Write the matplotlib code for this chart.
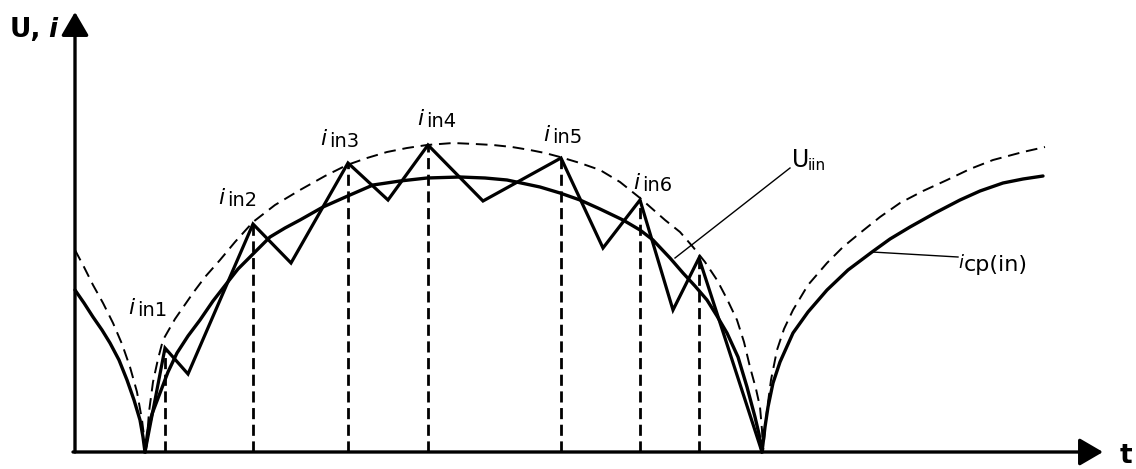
import matplotlib
matplotlib.use("Agg")
import matplotlib.pyplot as plt

plt.rcParams["font.family"] = ["DejaVu Sans"]

# Rectified input voltage envelope U_in (dashed)
envelope_t = [0, 9, 18, 28, 38, 47, 55, 62, 67, 69, 71,
              74, 78, 83, 88, 100, 118, 130, 145, 160, 178, 200, 225, 250, 272,
              292, 312, 332, 352, 378, 400, 418, 437, 455, 470, 485, 505, 525,
              545, 565, 590, 605, 618, 630, 642, 652, 662, 669, 675, 681, 685,
              687, 688,
              690, 692, 696, 702, 709, 718, 733, 752, 768, 785, 805, 825, 848,
              872, 895, 918, 933, 948, 970]
envelope_v = [202, 185, 167, 149, 129, 108, 85, 60, 32, 16, 0,
              40, 70, 93, 112, 133, 159, 175, 192, 210, 230, 247, 262, 276, 287,
              294, 300, 304, 307, 309, 308, 307, 305, 302, 299, 295, 289, 282,
              270, 254, 232, 220, 205, 190, 172, 153, 132, 110, 85, 63, 45,
              22, 0,
              22, 42, 72, 102, 123, 142, 167, 189, 205, 219, 235, 249, 261,
              272, 283, 292, 296, 300, 305]

# Averaged input current i_cp(in) (solid)
current_t = [0, 9, 18, 27, 35, 44, 52, 59, 65, 68, 70,
             73, 77, 85, 93, 102, 113, 125, 138, 152, 163, 175, 195, 210, 225,
             248, 275, 298, 325, 352, 385, 410, 432, 465, 485, 505, 525, 548,
             565, 578, 595, 608, 620, 632, 642, 652, 663, 672, 680, 684, 687,
             690, 693, 698, 705, 718, 733, 752, 773, 797, 815, 835, 860, 885,
             905, 928, 948, 968]
current_v = [162, 149, 135, 122, 109, 92, 72, 52, 32, 15, 0,
             22, 38, 59, 80, 99, 116, 132, 151, 169, 183, 195, 215, 224, 232,
             245, 257, 267, 271, 274, 275, 274, 272, 265, 259, 252, 243, 232,
             222, 212, 194, 179, 166, 152, 136, 119, 95, 65, 35, 18, 0,
             25, 45, 69, 90, 119, 140, 162, 182, 200, 213, 225, 239, 252,
             261, 269, 273, 276]

# Switched inductor current (zigzag)
ripple_t = [70, 90, 113, 178, 216, 273, 313, 353, 408, 486, 528, 565, 598, 624, 687]
ripple_v = [0, 104, 78, 228, 189, 289, 252, 307, 251, 294, 204, 252, 142, 194, 0]

# Peak current labels
peak_names = ["in1", "in2", "in3", "in4", "in5", "in6"]
label_t = [53, 143, 245, 342, 468, 558]
label_v = [138, 248, 307, 327, 311, 263]

fig = plt.figure(figsize=(11.36, 4.69), dpi=100)
ax = fig.add_axes([0, 0, 1, 1])
ax.set_xlim(-75, 1061)
ax.set_ylim(-17, 452)
ax.axis("off")

ax.plot(envelope_t, envelope_v, color="k", lw=1.4, dashes=(6, 3.5))
ax.plot(current_t, current_v, color="k", lw=2.4, solid_joinstyle="round",
        solid_capstyle="round")
ax.plot(ripple_t, ripple_v, color="k", lw=2.3, solid_joinstyle="miter")

# Vertical sampling lines from the axis up to each ripple peak
for t, v in zip(ripple_t[1:-1:2], ripple_v[1:-1:2]):
    ax.plot([t, t], [0, v], color="k", lw=2.0, dashes=(4, 2))

# Coordinate axes with arrow heads
arrow = dict(arrowstyle="-|>,head_length=0.6,head_width=0.35", lw=2.4,
             color="k", shrinkA=0, shrinkB=0, mutation_scale=24)
ax.annotate("", xy=(0, 440), xytext=(0, 0), arrowprops=arrow)
ax.annotate("", xy=(1028, 0), xytext=(-2, 0), arrowprops=arrow)

ax.text(-65, 415, "U,", fontsize=19, fontweight="bold", ha="left", va="baseline")
ax.text(-27, 415, "i", fontsize=19, fontweight="bold", style="italic",
        ha="left", va="baseline")
ax.text(1045, -11, "t", fontsize=19, fontweight="bold", ha="left", va="baseline")


def sub_label(t, v, main, sub, main_size, sub_size, dx_px, dy_px, main_style="italic"):
    ax.text(t, v, main, fontsize=main_size, style=main_style, ha="left",
            va="baseline")
    ax.annotate(sub, (t, v), xytext=(dx_px * 0.72, dy_px * 0.72),
                textcoords="offset points", fontsize=sub_size, ha="left",
                va="baseline")


for name, t, v in zip(peak_names, label_t, label_v):
    sub_label(t, v, "i", name, 16, 14, 9, -2)

# U_in label with leader line
ax.plot([715, 600], [284, 194], color="k", lw=1.0)
sub_label(717, 285, "U", "iin", 17, 11, 16, -3, main_style="normal")

# i_cp(in) label with leader line
ax.plot([797, 883], [200, 195], color="k", lw=1.0)
sub_label(883, 184, "i", "cp(in)", 13, 16, 6, -3)

fig.savefig("out.png", dpi=100)
